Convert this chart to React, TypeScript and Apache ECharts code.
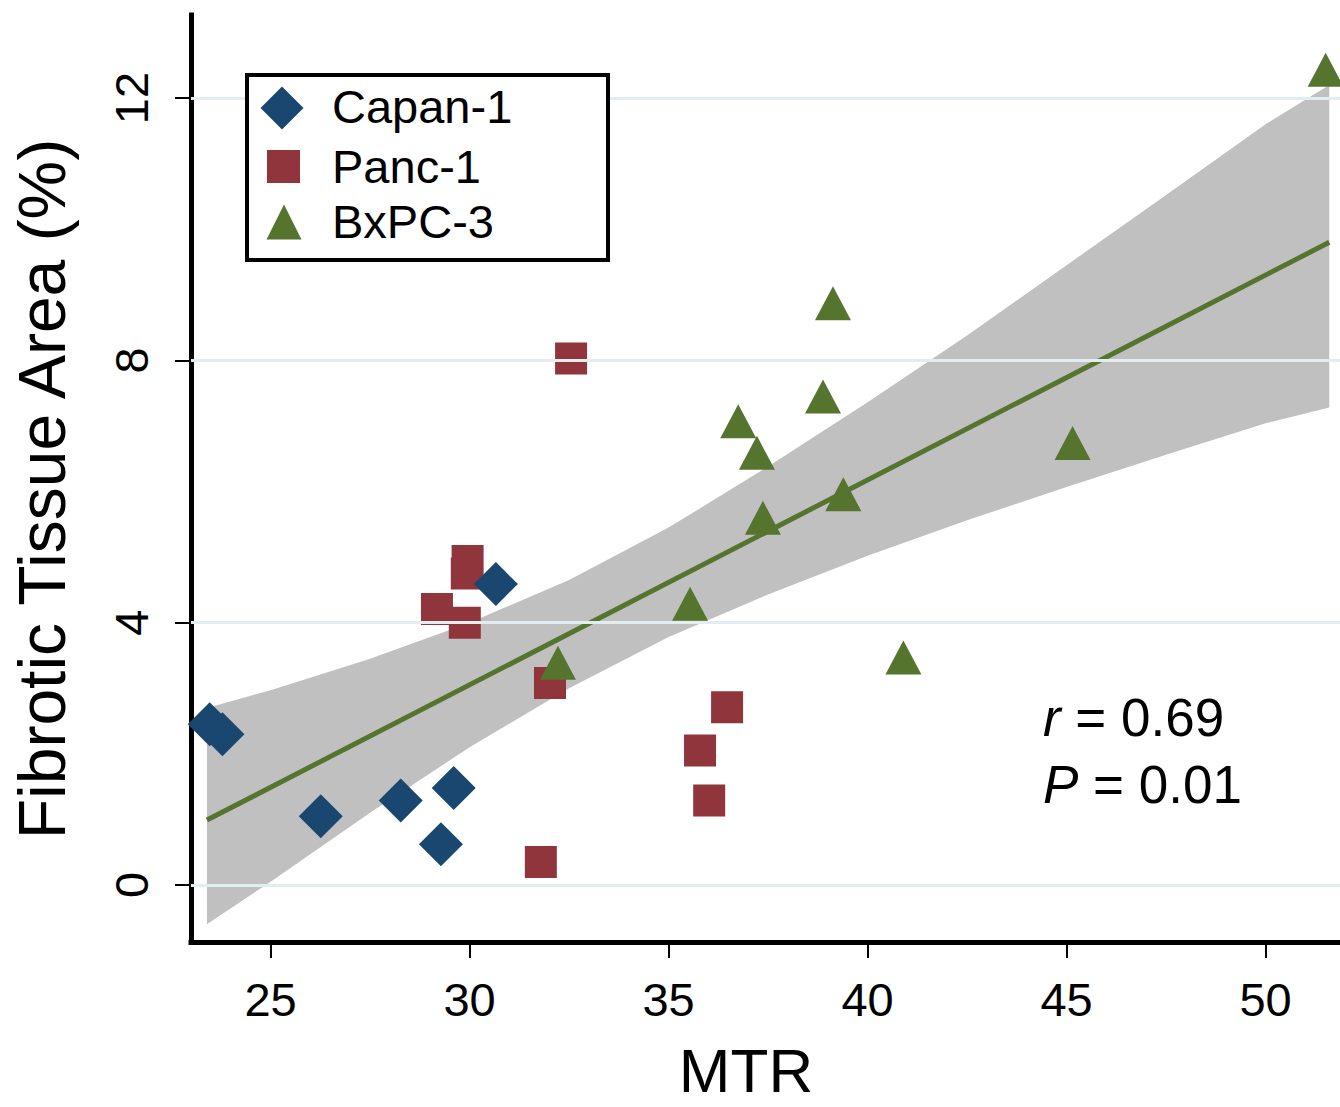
import React, { useEffect, useRef } from 'react';
import * as echarts from 'echarts';

// ---------- data ----------
const capanX = [23.47, 23.79, 26.26, 28.27, 29.28, 29.6, 30.66];
const capanY = [2.45, 2.3, 1.05, 1.29, 0.62, 1.48, 4.59];

const pancX = [32.55, 29.95, 29.93, 29.18, 29.88, 32.02, 36.47, 35.79, 36.02, 31.79];
const pancY = [8.03, 4.94, 4.75, 4.21, 4.0, 3.08, 2.71, 2.05, 1.29, 0.35];

const bxX = [51.51, 39.13, 38.88, 36.75, 37.22, 39.39, 37.37, 45.15, 35.54, 32.22, 40.9];
const bxY = [12.43, 8.87, 7.45, 7.07, 6.59, 5.96, 5.6, 6.74, 4.29, 3.39, 3.47];

// fitted line end points
const fitX = [23.4, 51.6];
const fitY = [0.99, 9.8];

// confidence band edges
const bandX = [23.4, 25, 27.5, 30, 32.5, 35, 37.5, 40, 42.5, 45, 47.5, 50, 51.6];
const bandUpper = [2.7, 2.97, 3.45, 4.0, 4.65, 5.45, 6.38, 7.36, 8.38, 9.45, 10.52, 11.6, 12.2];
const bandLower = [-0.6, 0.05, 1.1, 2.1, 3.0, 3.78, 4.43, 5.02, 5.56, 6.07, 6.56, 7.04, 7.28];

const xTicks = [25, 30, 35, 40, 45, 50];
const yTicks = [0, 4, 8, 12];

const seriesNames = ['Capan-1', 'Panc-1', 'BxPC-3'];
const statLines = ['{i|r} = 0.69', '{i|P} = 0.01'];
const xTitle = 'MTR';
const yTitle = 'Fibrotic Tissue Area (%)';

// ---------- styles ----------
const FONT = '"Liberation Sans", Arial, Helvetica, sans-serif';
const NAVY = '#1a476f';
const MAROON = '#90353b';
const GREEN = '#55752f';
const BAND = '#c0c0c0';
const GRIDC = '#e2edf0';

const zip = (xs: number[], ys: number[]) => xs.map((x, i) => [x, ys[i]]);

function buildOption(): any {
  return {
    animation: false,
    backgroundColor: '#ffffff',
    grid: { left: 191, right: 0, top: 15, bottom: 165, containLabel: false },
    xAxis: {
      type: 'value',
      min: 23.0,
      max: 51.87,
      axisLine: { show: true, onZero: false, lineStyle: { color: '#000', width: 5, cap: 'square' } },
      axisTick: { show: true, length: 16, lineStyle: { color: '#000', width: 2 }, customValues: xTicks },
      axisLabel: { customValues: xTicks, fontSize: 47, color: '#000', fontFamily: FONT, margin: 34 },
      splitLine: { show: false },
    },
    yAxis: {
      type: 'value',
      min: -0.869,
      max: 13.266,
      axisLine: { show: true, onZero: false, lineStyle: { color: '#000', width: 5, cap: 'square' } },
      axisTick: { show: true, length: 16, lineStyle: { color: '#000', width: 2 }, customValues: yTicks },
      axisLabel: { customValues: yTicks, rotate: 90, fontSize: 47, color: '#000', fontFamily: FONT, margin: 36 },
      splitLine: { show: false },
    },
    series: [
      {
        name: 'grid',
        type: 'line',
        data: [],
        z: 1,
        silent: true,
        markLine: {
          silent: true,
          symbol: ['none', 'none'],
          label: { show: false },
          lineStyle: { color: GRIDC, width: 3, type: 'solid' },
          data: yTicks.map((v) => ({ yAxis: v })),
        },
      },
      {
        name: 'band',
        type: 'custom',
        z: 2,
        silent: true,
        data: [[bandX[0], bandLower[0]]],
        encode: { x: 0, y: 1 },
        renderItem: (params: any, api: any) => {
          if (params.dataIndex !== 0) return null;
          const pts: number[][] = [];
          for (let i = 0; i < bandX.length; i++) pts.push(api.coord([bandX[i], bandUpper[i]]));
          for (let i = bandX.length - 1; i >= 0; i--) pts.push(api.coord([bandX[i], bandLower[i]]));
          return { type: 'polygon', shape: { points: pts }, style: { fill: BAND } };
        },
      },
      {
        name: 'fit',
        type: 'line',
        z: 3,
        silent: true,
        symbol: 'none',
        data: zip(fitX, fitY),
        lineStyle: { color: GREEN, width: 5 },
      },
      {
        name: seriesNames[1],
        type: 'scatter',
        z: 4,
        clip: false,
        symbol: 'rect',
        symbolSize: [32, 32],
        itemStyle: { color: MAROON, opacity: 1 },
        data: zip(pancX, pancY),
      },
      {
        name: seriesNames[0],
        type: 'scatter',
        z: 5,
        clip: false,
        symbol: 'diamond',
        symbolSize: [44, 44],
        itemStyle: { color: NAVY, opacity: 1 },
        data: zip(capanX, capanY),
      },
      {
        name: seriesNames[2],
        type: 'scatter',
        z: 6,
        clip: false,
        symbol: 'triangle',
        symbolSize: [36, 34],
        itemStyle: { color: GREEN, opacity: 1 },
        data: zip(bxX, bxY),
      },
    ],
    graphic: [
      // legend
      {
        type: 'rect',
        shape: { x: 247, y: 75, width: 361, height: 185 },
        style: { fill: '#fff', stroke: '#000', lineWidth: 4 },
        z: 10,
      },
      {
        type: 'polygon',
        shape: { points: [[282, 86.5], [303.5, 108], [282, 129.5], [260.5, 108]] },
        style: { fill: NAVY },
        z: 11,
      },
      {
        type: 'rect',
        shape: { x: 267, y: 150, width: 33, height: 33 },
        style: { fill: MAROON },
        z: 11,
      },
      {
        type: 'polygon',
        shape: { points: [[284, 204.5], [301.5, 239.5], [266.5, 239.5]] },
        style: { fill: GREEN },
        z: 11,
      },
      ...seriesNames.map((n, i) => ({
        type: 'text',
        x: 332,
        y: [106, 166, 221][i],
        z: 11,
        style: { text: n, fontSize: 47, fontFamily: FONT, fill: '#000', align: 'left', verticalAlign: 'middle' },
      })),
      // statistics
      ...statLines.map((t, i) => ({
        type: 'text',
        x: 1043,
        y: [717, 784][i],
        z: 11,
        style: {
          text: t,
          fontSize: 53,
          fontFamily: FONT,
          fill: '#000',
          align: 'left',
          verticalAlign: 'middle',
          rich: { i: { fontStyle: 'italic', fontSize: 53, fontFamily: FONT, fill: '#000' } },
        },
      })),
      // axis titles
      {
        type: 'text',
        x: 746,
        y: 1070,
        style: { text: xTitle, fontSize: 62, fontFamily: FONT, fill: '#000', align: 'center', verticalAlign: 'middle' },
      },
      {
        type: 'text',
        x: 42,
        y: 489,
        rotation: Math.PI / 2,
        style: { text: yTitle, fontSize: 66, fontFamily: FONT, fill: '#000', align: 'center', verticalAlign: 'middle' },
      },
    ],
  };
}

export default function App() {
  const ref = useRef<HTMLDivElement>(null);
  useEffect(() => {
    if (!ref.current) return;
    const chart = echarts.init(ref.current, null, { renderer: 'svg' });
    chart.setOption(buildOption());
    return () => chart.dispose();
  }, []);
  return (
    <div
      ref={ref}
      style={{ position: 'absolute', left: 0, top: 0, width: 1340, height: 1107, background: '#fff' }}
    />
  );
}
